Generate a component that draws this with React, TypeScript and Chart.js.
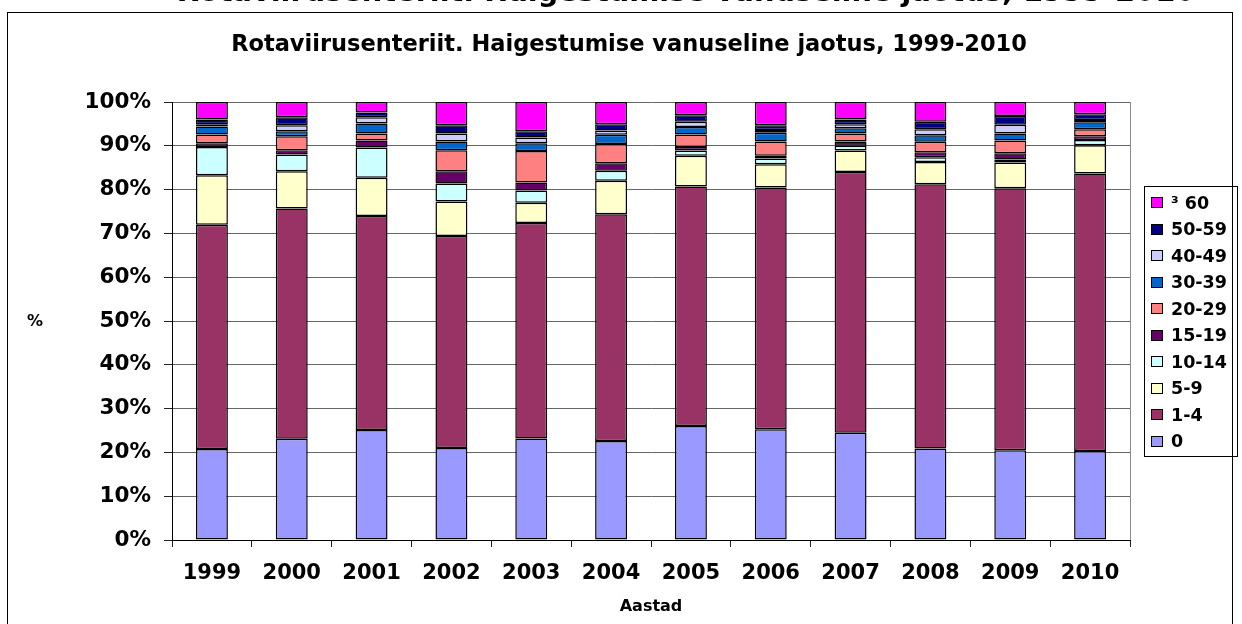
import React, { useEffect, useRef } from "react";
import { Chart, registerables } from "chart.js";

Chart.register(...registerables);

const PAGE_TITLE = "Rotaviirusenteriit. Haigestumise vanuseline jaotus, 1999-2010";
const CHART_TITLE = "Rotaviirusenteriit. Haigestumise vanuseline jaotus, 1999-2010";
const X_TITLE = "Aastad";
const Y_TITLE = "%";

const years = ["1999", "2000", "2001", "2002", "2003", "2004", "2005", "2006", "2007", "2008", "2009", "2010"];

const age0 = [20.8, 23.1, 25.1, 21.0, 23.2, 22.6, 26.0, 25.3, 24.5, 20.9, 20.5, 20.3];
const age1_4 = [51.2, 52.6, 48.9, 48.4, 49.2, 51.8, 54.7, 55.2, 59.5, 60.3, 59.8, 63.4];
const age5_9 = [11.3, 8.5, 8.7, 7.9, 4.6, 7.6, 7.0, 5.3, 4.9, 5.1, 5.9, 6.4];
const age10_14 = [6.4, 3.8, 6.9, 4.1, 2.8, 2.3, 1.2, 1.3, 1.1, 1.1, 0.7, 1.2];
const age15_19 = [0.9, 1.0, 1.6, 2.8, 1.8, 1.7, 0.8, 0.6, 1.0, 1.1, 1.4, 0.9];
const age20_29 = [2.0, 3.2, 1.6, 4.8, 7.2, 4.4, 2.9, 3.3, 1.8, 2.4, 2.9, 1.6];
const age30_39 = [1.8, 1.1, 2.3, 2.0, 1.8, 2.1, 1.7, 2.0, 1.2, 1.5, 1.6, 1.6];
const age40_49 = [0.5, 1.4, 1.4, 1.8, 1.3, 1.0, 1.2, 0.6, 0.9, 1.4, 2.0, 0.5];
const age50_59 = [1.1, 1.8, 1.1, 1.9, 1.4, 1.4, 1.5, 1.1, 1.1, 1.7, 2.0, 1.3];
const age60 = [4.0, 3.5, 2.4, 5.3, 6.7, 5.1, 3.0, 5.3, 4.0, 4.5, 3.2, 2.8];

const seriesLabels = ["0", "1-4", "5-9", "10-14", "15-19", "20-29", "30-39", "40-49", "50-59", "³ 60"];
const seriesValues = [age0, age1_4, age5_9, age10_14, age15_19, age20_29, age30_39, age40_49, age50_59, age60];
const seriesColors = ["#9999FF", "#993366", "#FFFFCC", "#CCFFFF", "#660066", "#FF8080", "#0066CC", "#CCCCFF", "#000080", "#FF00FF"];

const yTicks = [0, 10, 20, 30, 40, 50, 60, 70, 80, 90, 100];

const FONT = '"DejaVu Sans", "Liberation Sans", Arial, sans-serif';

const decorPlugin = {
  id: "decor",
  afterDraw(chart: any) {
    const ctx = chart.ctx as CanvasRenderingContext2D;
    const area = chart.chartArea;
    ctx.save();
    // right border of plot area
    ctx.strokeStyle = "#8a8a8a";
    ctx.lineWidth = 1;
    const rx = Math.round(area.right) + 0.5;
    ctx.beginPath();
    ctx.moveTo(rx, area.top);
    ctx.lineTo(rx, area.bottom);
    ctx.stroke();
    // outer frame
    ctx.strokeStyle = "#000";
    ctx.strokeRect(7.5, 12.5, 1225, 700);
    // cut-off page title
    ctx.fillStyle = "#000";
    ctx.textAlign = "center";
    ctx.textBaseline = "alphabetic";
    ctx.font = `bold 28.8px ${FONT}`;
    ctx.fillText(PAGE_TITLE, 686, 1);
    // chart title
    ctx.textBaseline = "middle";
    ctx.font = `bold 22.5px ${FONT}`;
    ctx.fillText(CHART_TITLE, 629, 45);
    // y title
    ctx.font = `bold 16px ${FONT}`;
    ctx.fillText(Y_TITLE, 35, 322);
    // legend
    ctx.strokeStyle = "#000";
    ctx.strokeRect(1144.5, 186.5, 93, 270);
    const ds = chart.data.datasets;
    ctx.textAlign = "left";
    ctx.font = `bold 17.5px ${FONT}`;
    for (let i = 0; i < ds.length; i++) {
      const d = ds[ds.length - 1 - i];
      const cy = 203 + i * 26.5;
      ctx.fillStyle = d.backgroundColor;
      ctx.fillRect(1151, Math.round(cy - 6), 12, 11);
      ctx.strokeRect(1151.5, Math.round(cy - 6) + 0.5, 11, 10);
      ctx.fillStyle = "#000";
      ctx.fillText(d.label, 1171, cy + 1);
    }
    ctx.restore();
  },
};

export default function App() {
  const ref = useRef<HTMLCanvasElement | null>(null);
  useEffect(() => {
    if (!ref.current) return;
    const chart = new Chart(ref.current, {
      type: "bar",
      data: {
        labels: years,
        datasets: seriesValues.map((vals, i) => ({
          label: seriesLabels[i],
          data: vals,
          backgroundColor: seriesColors[i],
          borderColor: "#000",
          borderWidth: 1.5,
          borderSkipped: false,
          barPercentage: 0.4,
          categoryPercentage: 1.0,
        })),
      },
      options: {
        animation: false,
        responsive: false,
        devicePixelRatio: 1,
        layout: { padding: { top: 102, right: 112, bottom: 0, left: 0 } },
        plugins: {
          legend: { display: false },
          title: { display: false },
          tooltip: { enabled: false },
        },
        scales: {
          x: {
            stacked: true,
            grid: {
              offset: true,
              drawOnChartArea: false,
              drawTicks: true,
              tickLength: 7,
              tickColor: "#222",
            },
            border: { color: "#000", width: 1 },
            ticks: {
              color: "#000",
              padding: 14,
              font: { family: FONT, size: 21, weight: "bold" },
            },
            title: {
              display: true,
              text: X_TITLE,
              color: "#000",
              font: { family: FONT, size: 16, weight: "bold" },
              padding: { top: 0, bottom: 8 },
            },
            afterFit(scale: any) {
              scale.height = 84;
            },
          },
          y: {
            stacked: true,
            min: 0,
            max: 100,
            afterBuildTicks(scale: any) {
              scale.ticks = yTicks.map((v) => ({ value: v }));
            },
            grid: {
              color: "#666666",
              tickLength: 8,
              tickColor: "#222",
            },
            border: { color: "#000", width: 1 },
            ticks: {
              color: "#000",
              padding: 13,
              font: { family: FONT, size: 21.5, weight: "bold" },
              callback: (v: any) => `${v}%`,
            },
            afterFit(scale: any) {
              scale.width = 172;
            },
          },
        },
      },
      plugins: [decorPlugin],
    });
    return () => chart.destroy();
  }, []);
  return (
    <div style={{ position: "absolute", left: 0, top: 0, width: 1242, height: 624, background: "#fff" }}>
      <canvas ref={ref} width={1242} height={624} style={{ display: "block", width: 1242, height: 624 }} />
    </div>
  );
}
